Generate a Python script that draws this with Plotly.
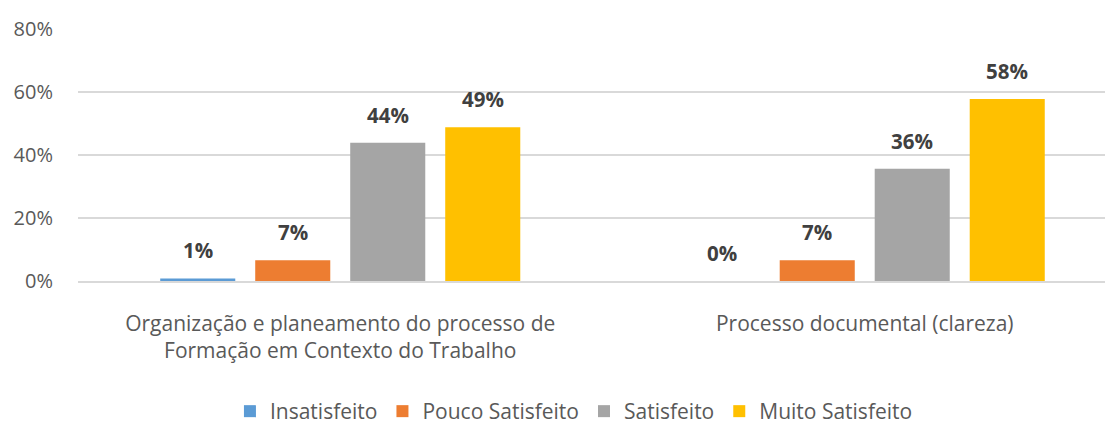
import plotly.graph_objects as go

# ---------------------------------------------------------------------------
# Data
# ---------------------------------------------------------------------------

categories = [
    "Organização e planeamento do processo de<br>Formação em Contexto do Trabalho",
    "Processo documental (clareza)",
]
series_names = ["Insatisfeito", "Pouco Satisfeito", "Satisfeito", "Muito Satisfeito"]
insatisfeito = [0.8, 0.0]
pouco_satisfeito = [6.6, 6.6]
satisfeito = [43.9, 35.6]
muito_satisfeito = [48.8, 57.8]

y_ticks = [0, 20, 40, 60, 80]

_COLORS = ["#5B9BD5", "#ED7D31", "#A5A5A5", "#FFC000"]
_FONT = "Open Sans"
_GRID = "#D9D9D9"

BARGAP = 0.2755
BARGROUPGAP = 0.21

series_values = [insatisfeito, pouco_satisfeito, satisfeito, muito_satisfeito]

fig = go.Figure()
for name, vals, color in zip(series_names, series_values, _COLORS):
    fig.add_trace(
        go.Bar(
            x=categories,
            y=vals,
            name=name,
            marker=dict(color=color, line=dict(width=0)),
        )
    )

# Data labels sit a little above each bar (Excel style), so place them as
# annotations at the bar centres that the group layout produces.
n = len(series_names)
slot = (1 - BARGAP) / n
for i, vals in enumerate(series_values):
    for j, v in enumerate(vals):
        fig.add_annotation(
            x=j + (i - (n - 1) / 2) * slot,
            y=v,
            xref="x", yref="y",
            text=f"<b>{v:.0f}%</b>",
            showarrow=False,
            yanchor="bottom",
            yshift=12,
            font=dict(family=_FONT, size=20.5, color="#404040"),
        )

fig.update_layout(
    width=1113,
    height=424,
    barmode="group",
    bargap=BARGAP,
    bargroupgap=BARGROUPGAP,
    paper_bgcolor="white",
    plot_bgcolor="white",
    margin=dict(l=70, r=0, t=21, b=151),
    font=dict(family=_FONT, size=21, color="#595959"),
    showlegend=True,
    legend=dict(
        orientation="h",
        x=0.4755,
        xanchor="center",
        y=-0.52,
        yanchor="middle",
        font=dict(family=_FONT, size=21, color="#595959"),
        itemsizing="constant",
        traceorder="normal",
        itemwidth=30,
    ),
    xaxis=dict(
        range=[-0.5, 1.4886],
        showgrid=False,
        showline=True,
        linecolor=_GRID,
        linewidth=1.5,
        ticks="",
        ticklabelstandoff=23,
        automargin=False,
        tickfont=dict(family=_FONT, size=21, color="#595959"),
    ),
    yaxis=dict(
        range=[0, 80],
        tickvals=y_ticks,
        ticktext=[f"{t}%" for t in y_ticks],
        showgrid=True,
        gridcolor=_GRID,
        gridwidth=1.5,
        zeroline=False,
        showline=False,
        ticks="",
        ticklabelstandoff=24,
        automargin=False,
        tickfont=dict(family=_FONT, size=20, color="#595959"),
    ),
)

fig.write_html("out.html")
